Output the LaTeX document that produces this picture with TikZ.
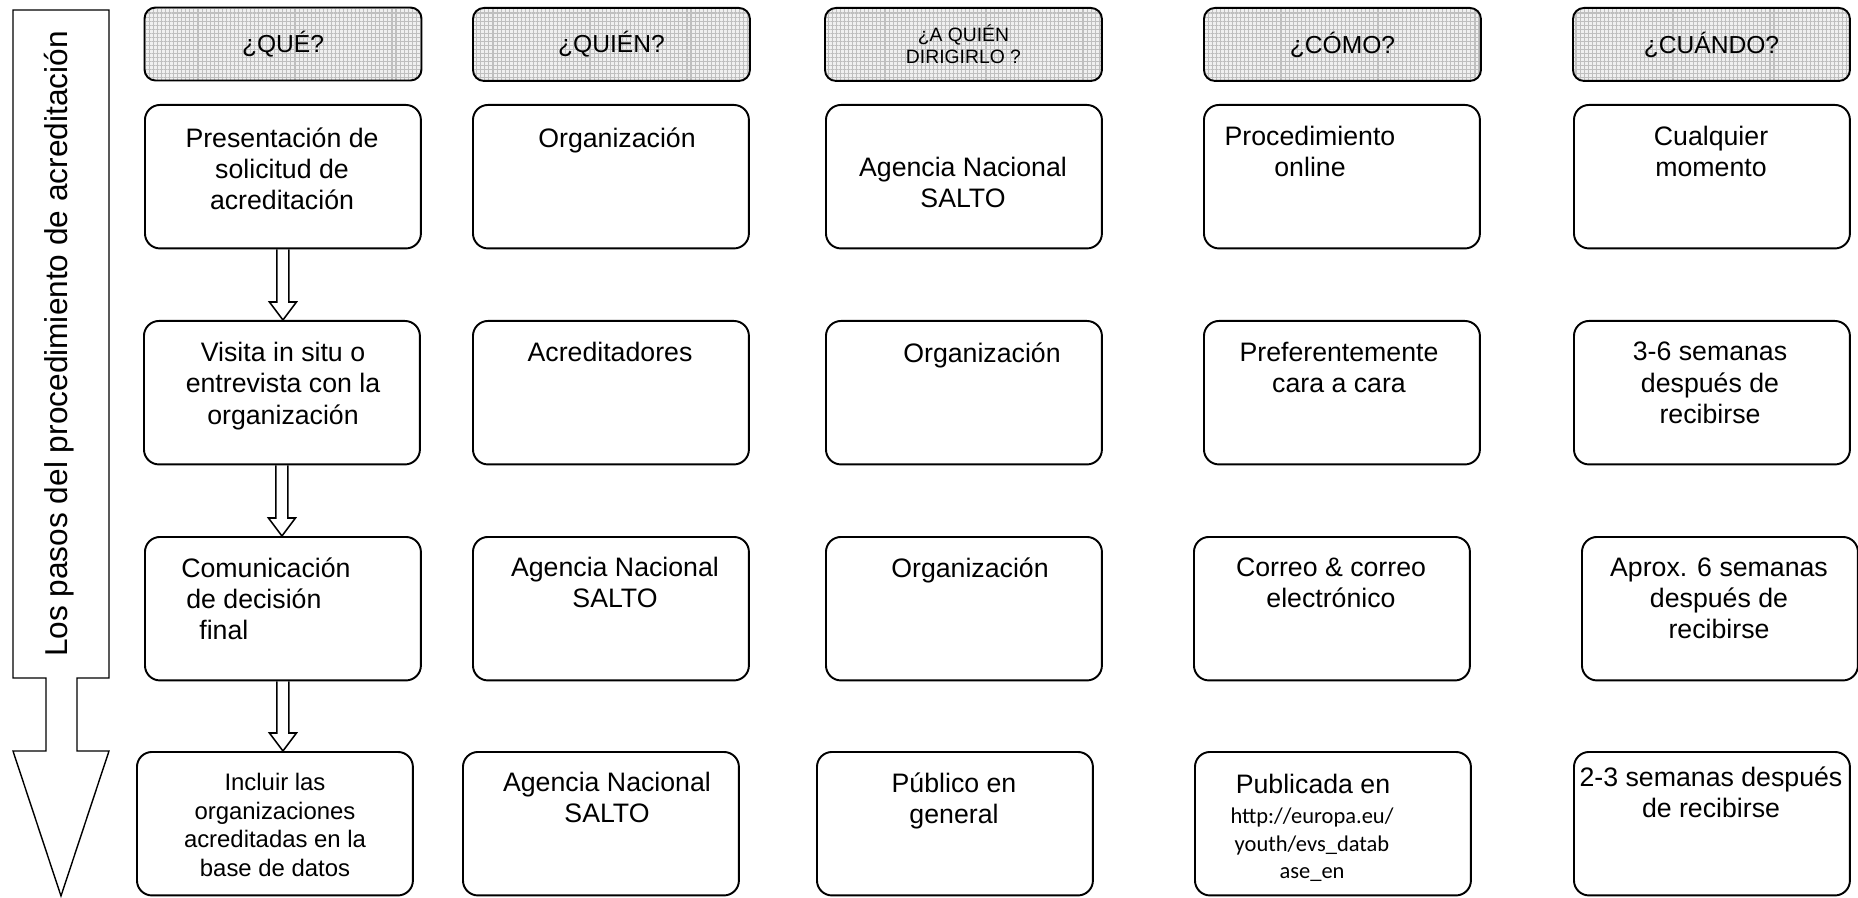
\documentclass[tikz,border=0pt]{standalone}
\usepackage{fontspec}
\setmainfont{Liberation Sans}
\newfontfamily\urlfont{Carlito}
\usetikzlibrary{patterns.meta}

\begin{document}
\begin{tikzpicture}[
        x=0.02cm, y=-0.02cm,
        every node/.style={inner sep=0pt},
        head/.style={draw, line width=1.1pt, rounded corners=0.22cm, anchor=north west,
            minimum width=5.54cm, minimum height=1.46cm, align=center,
            preaction={fill=gray!12},
            pattern={Hatch[angle=0, distance=2.3pt, line width=0.6pt]}, pattern color=gray!50,
            font=\fontsize{14}{15.5}\selectfont},
        card/.style={draw, line width=1.1pt, rounded corners=0.3cm, anchor=north west,
            minimum width=5.52cm, minimum height=2.87cm},
        txt/.style={anchor=north, align=center, font=\fontsize{15.2}{17.8}\selectfont},
        hollow/.style={draw, line width=0.9pt, line join=miter}
    ]
    \useasboundingbox (0,0) rectangle (1858,898);

    % big arrow on the left
    \draw[line width=0.8pt] (13,10) -- (109,10) -- (109,678) -- (77,678) -- (77,751) -- (109,751)
        -- (61,896) -- (13,751) -- (46,751) -- (46,678) -- (13,678) -- cycle;
    \node[rotate=90, font=\fontsize{18}{20}\selectfont] (pasos) at (59,344)
        {Los pasos del procedimiento de acreditación};

    % column heads
    \node[head] (h1) at (144,7) {¿QUÉ?};
    \node[head] (h2) at (472,7) {¿QUIÉN?};
    \node[head, font=\fontsize{11}{12.5}\selectfont] (h3) at (824,7) {¿A QUIÉN\\DIRIGIRLO ?};
    \node[head] (h4) at (1203,7) {¿CÓMO?};
    \node[head] (h5) at (1572,7) {¿CUÁNDO?};

    % the boxes
    \foreach \x/\y/\n in {144/104/11, 472/104/12, 825/104/13, 1203/104/14, 1573/104/15,
                          143/320/21, 472/320/22, 825/320/23, 1203/320/24, 1573/320/25,
                          144/536/31, 472/536/32, 825/536/33, 1193/536/34, 1581/536/35,
                          136/751/41, 462/751/42, 816/751/43, 1194/751/44, 1573/751/45}
        \node[card] (b\n) at (\x,\y) {};

    % texts
    \node[txt] (t11) at (282,127) {Presentación de\\solicitud de\\acreditación};
    \node[txt] (t12) at (617,127) {Organización};
    \node[txt] (t13) at (963,157) {Agencia Nacional\\SALTO};
    \node[txt] (t14) at (1310,126) {Procedimiento\\online};
    \node[txt] (t15) at (1711,126) {Cualquier\\momento};

    \node[txt] (t21) at (283,342) {Visita in situ o\\entrevista con la\\organización};
    \node[txt] (t22) at (610,342) {Acreditadores};
    \node[txt] (t23) at (982,342) {Organización};
    \node[txt] (t24) at (1339,342) {Preferentemente\\cara a cara};
    \node[txt] (t25) at (1710,342) {3-6 semanas\\después de\\recibirse};

    \node[txt, anchor=north west, align=left] (t31) at (181,557)
        {Comunicación\\\hspace*{0.1cm}de decisión\\\hspace*{0.36cm}final};
    \node[txt] (t32) at (615,557) {Agencia Nacional\\SALTO};
    \node[txt] (t33) at (970,557) {Organización};
    \node[txt] (t34) at (1331,557) {Correo \& correo\\electrónico};
    \node[txt] (t35) at (1719,557) {Aprox. 6 semanas\\después de\\recibirse};

    \node[txt, font=\fontsize{13.6}{16.2}\selectfont] (t41) at (275,773)
        {Incluir las\\organizaciones\\acreditadas en la\\base de datos};
    \node[txt] (t42) at (607,772) {Agencia Nacional\\SALTO};
    \node[txt] (t43) at (954,772) {Público en\\general};
    \node[txt] (t44) at (1313,774) {Publicada en};
    \node[txt, font=\urlfont\fontsize{12.8}{15.5}\selectfont] (u44) at (1312,808)
        {http://europa.eu/\\youth/evs\_datab\\ase\_en};
    \node[txt] (t45) at (1711,766) {2-3 semanas después\\de recibirse};

    % hollow arrows between the steps
    \foreach \a/\b in {11/21, 21/31, 31/41}{
        \coordinate (tip\b) at (b\a.south |- b\b.north);
        \draw[hollow] ([xshift=-0.12cm]b\a.south) -- ([xshift=-0.12cm, yshift=0.36cm]tip\b)
            -- ([xshift=-0.27cm, yshift=0.36cm]tip\b) -- (tip\b)
            -- ([xshift=0.27cm, yshift=0.36cm]tip\b) -- ([xshift=0.12cm, yshift=0.36cm]tip\b)
            -- ([xshift=0.12cm]b\a.south);
    }
\end{tikzpicture}
\end{document}
